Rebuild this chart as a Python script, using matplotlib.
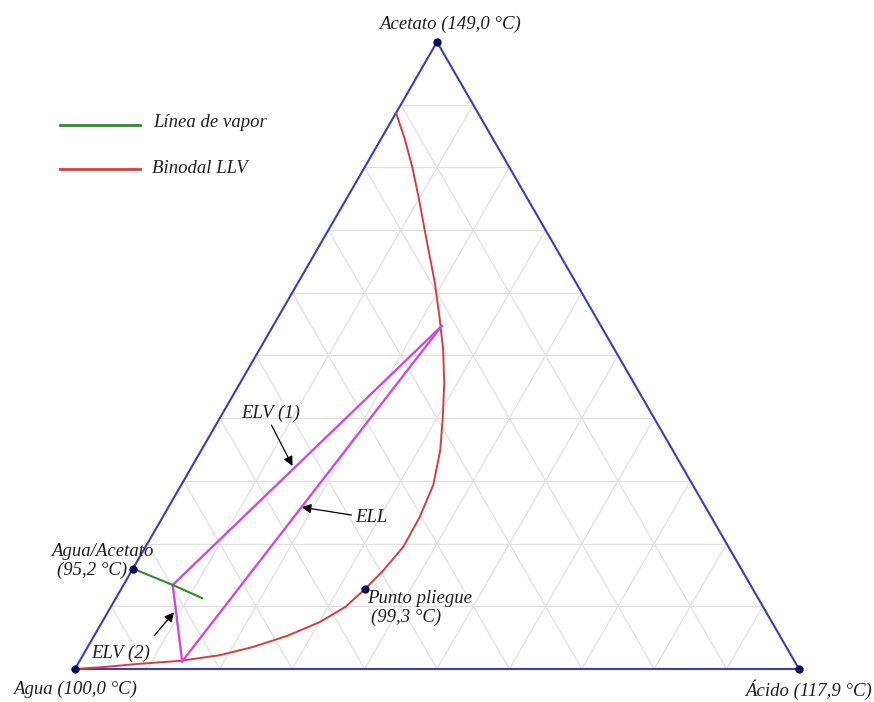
import numpy as np
import matplotlib.pyplot as plt

plt.rcParams['font.family'] = ['Liberation Serif', 'DejaVu Serif']
plt.rcParams['font.style'] = 'italic'

# compositions as (x_acido, x_acetato); agua is the remainder
binodal_acido = [0.0, 0.037, 0.082, 0.139, 0.189, 0.228, 0.267, 0.301, 0.324,
                 0.337, 0.347, 0.356, 0.355, 0.348, 0.330, 0.307, 0.282, 0.254,
                 0.223, 0.189, 0.133, 0.100, 0.066, 0.033, 0.0]
binodal_acetato = [0.0, 0.003, 0.008, 0.013, 0.022, 0.035, 0.053, 0.075, 0.099,
                   0.128, 0.156, 0.195, 0.242, 0.294, 0.349, 0.402, 0.456, 0.509,
                   0.561, 0.616, 0.700, 0.750, 0.800, 0.845, 0.887]

vapor_acido = [0.0, 0.068, 0.119]
vapor_acetato = [0.160, 0.134, 0.113]

# tie lines: rich end, lean end
elv1_acido = [0.233, 0.068]
elv1_acetato = [0.547, 0.134]
ell_acido = [0.233, 0.142]
ell_acetato = [0.547, 0.012]
elv2_acido = [0.068, 0.142]
elv2_acetato = [0.134, 0.012]

pliegue = (0.337, 0.128)
azeotropo = (0.0, 0.160)

vertices_acido = [0.0, 1.0, 0.0]
vertices_acetato = [0.0, 0.0, 1.0]
vertex_labels = ['Agua (100,0 °C)', 'Ácido (117,9 °C)', 'Acetato (149,0 °C)']

H = np.sqrt(3) / 2


def tern(acido, acetato):
    acido = np.asarray(acido, dtype=float)
    acetato = np.asarray(acetato, dtype=float)
    return acido + 0.5 * acetato, H * acetato


def along(acido, acetato, t):
    x, y = tern(acido, acetato)
    return x[0] + t * (x[1] - x[0]), y[0] + t * (y[1] - y[0])


fig = plt.figure(figsize=(8.74, 7.02), dpi=100)
ax = fig.add_axes([0, 0, 1, 1])
ax.set_xlim(-0.1036, 1.1036)
ax.set_ylim(-0.0456, 0.9240)
ax.axis('off')

# grid every 0.1
grid_kw = dict(color='#e0e0e0', lw=0.9, zorder=1)
for v in np.arange(0.1, 1.0, 0.1):
    x, y = tern([0, 1 - v], [v, v])
    ax.plot(x, y, **grid_kw)
    x, y = tern([v, v], [0, 1 - v])
    ax.plot(x, y, **grid_kw)
    x, y = tern([0, v], [v, 0])
    ax.plot(x, y, **grid_kw)

# triangle
x, y = tern(vertices_acido + [0.0], vertices_acetato + [0.0])
ax.plot(x, y, color='#3b3bc4', lw=1.5, zorder=3)

# binodal curve
x, y = tern(binodal_acido, binodal_acetato)
ax.plot(x, y, color='#e0393a', lw=1.4, zorder=4, solid_joinstyle='round')

# tie lines
mag = '#d048e0'
for a, b in [(elv1_acido, elv1_acetato), (ell_acido, ell_acetato), (elv2_acido, elv2_acetato)]:
    x, y = tern(a, b)
    ax.plot(x, y, color=mag, lw=1.7, zorder=5)

# vapour line
x, y = tern(vapor_acido, vapor_acetato)
ax.plot(x, y, color='#2e8b2e', lw=1.5, zorder=5)

# points
dot = '#0a0a5a'
x, y = tern(vertices_acido, vertices_acetato)
ax.plot(x, y, 'o', color=dot, ms=5, zorder=6)
for p in (pliegue, azeotropo):
    x, y = tern(*p)
    ax.plot(x, y, 'o', color=dot, ms=5, zorder=6)

fs = 13.5
tc = '#1e1e1e'
x, y = tern(vertices_acido, vertices_acetato)
ax.annotate(vertex_labels[0], (x[0], y[0]), xytext=(0, -15), textcoords='offset points',
            ha='center', va='center', fontsize=fs, color=tc)
ax.annotate(vertex_labels[1], (x[1], y[1]), xytext=(6.5, -15), textcoords='offset points',
            ha='center', va='center', fontsize=fs, color=tc)
ax.annotate(vertex_labels[2], (x[2], y[2]), xytext=(9, 13), textcoords='offset points',
            ha='center', va='center', fontsize=fs, color=tc)

x, y = tern(*azeotropo)
ax.annotate('Agua/Acetato', (x, y), xytext=(-22, 12), textcoords='offset points',
            ha='center', va='center', fontsize=fs, color=tc)
ax.annotate('(95,2 °C)', (x, y), xytext=(-29.5, -1), textcoords='offset points',
            ha='center', va='center', fontsize=fs, color=tc)

x, y = tern(*pliegue)
ax.annotate('Punto pliegue', (x, y), xytext=(1, -7), textcoords='offset points',
            ha='left', va='center', fontsize=fs, color=tc)
ax.annotate('(99,3 °C)', (x, y), xytext=(4, -20.5), textcoords='offset points',
            ha='left', va='center', fontsize=fs, color=tc)

# arrow labels
arrow_kw = dict(arrowstyle='-|>', color='black', lw=0.9, mutation_scale=14, shrinkB=2)
mx, my = along(elv1_acido, elv1_acetato, 0.55)
ax.annotate('', (mx, my), xytext=(-17, 33), textcoords='offset points', arrowprops=arrow_kw)
ax.annotate('ELV (1)', (mx, my), xytext=(-17, 40), textcoords='offset points',
            ha='center', va='center', fontsize=fs, color=tc)

mx, my = along(ell_acido, ell_acetato, 0.54)
ax.annotate('', (mx, my), xytext=(38, -6), textcoords='offset points',
            arrowprops=dict(arrow_kw, shrinkB=0))
ax.annotate('ELL', (mx, my), xytext=(39, -7.5), textcoords='offset points',
            ha='left', va='center', fontsize=fs, color=tc)

mx, my = along(elv2_acido, elv2_acetato, 0.33)
ax.annotate('', (mx, my), xytext=(-17, -20), textcoords='offset points', arrowprops=arrow_kw)
ax.annotate('ELV (2)', (mx, my), xytext=(-40, -31), textcoords='offset points',
            ha='center', va='center', fontsize=fs, color=tc)

# legend
ax.plot([-0.0207, 0.0898], [0.752, 0.752], color='#2e8b2e', lw=2)
ax.text(0.1077, 0.755, 'Línea de vapor', fontsize=fs, color=tc, va='center')
ax.plot([-0.0207, 0.0898], [0.690, 0.690], color='#e0393a', lw=2)
ax.text(0.1063, 0.691, 'Binodal LLV', fontsize=fs, color=tc, va='center')

fig.savefig('out.png', dpi=100)
